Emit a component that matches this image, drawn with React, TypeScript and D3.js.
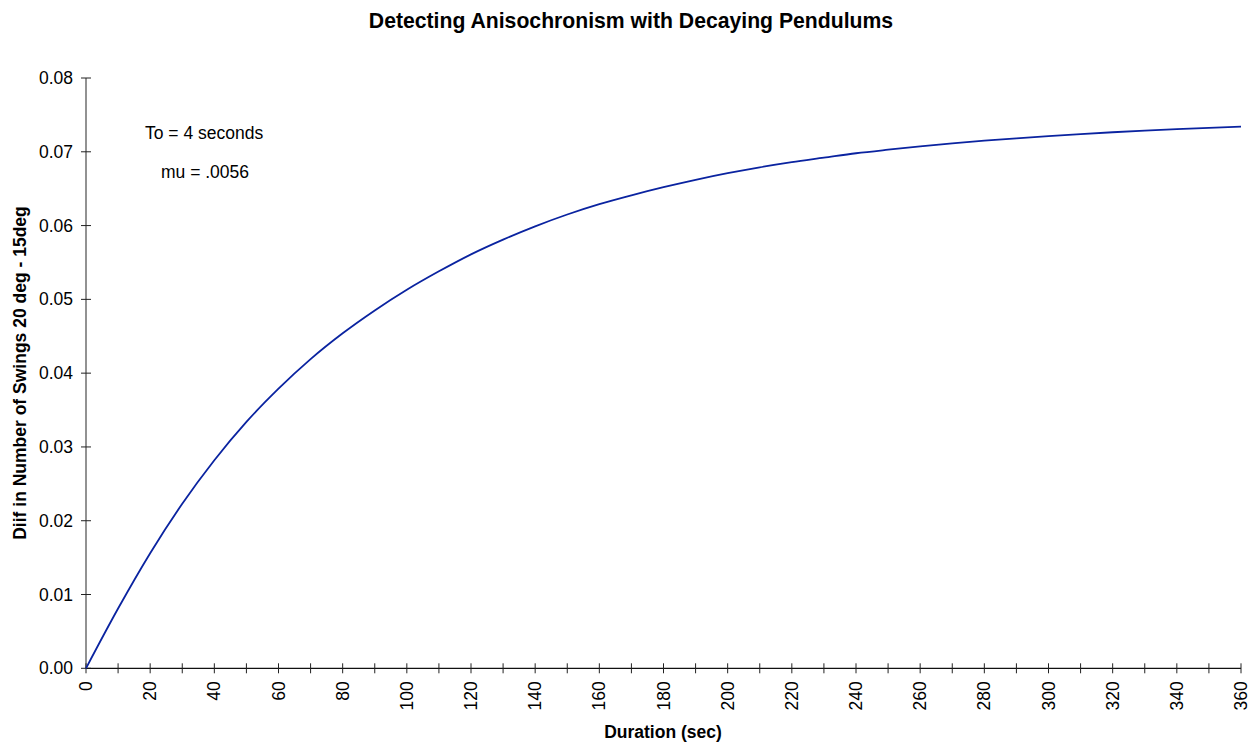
import React from "react";
import * as d3 from "d3";

const durations = [0, 10, 20, 30, 40, 50, 60, 70, 80, 90, 100, 110, 120, 130, 140, 150, 160, 170, 180, 190, 200, 210, 220, 230, 240, 250, 260, 270, 280, 290, 300, 310, 320, 330, 340, 350, 360];
const diffs = [0, 0.0081, 0.0156, 0.0223, 0.0282, 0.0334, 0.0379, 0.0419, 0.0454, 0.0485, 0.0513, 0.0538, 0.0561, 0.0581, 0.0599, 0.0615, 0.0629, 0.0641, 0.0652, 0.0662, 0.0671, 0.0679, 0.0686, 0.0692, 0.0698, 0.07028, 0.07072, 0.07113, 0.0715, 0.07183, 0.07213, 0.0724, 0.07265, 0.07287, 0.07307, 0.07325, 0.0734];
const xTickLabels = [0, 20, 40, 60, 80, 100, 120, 140, 160, 180, 200, 220, 240, 260, 280, 300, 320, 340, 360];
const xMinorTicks = d3.range(0, 361, 10);
const yTicks = [0, 0.01, 0.02, 0.03, 0.04, 0.05, 0.06, 0.07, 0.08];
const annotations = ["To = 4 seconds", "mu = .0056"];

const W = 1252;
const H = 743;
const left = 86;
const right = 1241;
const top = 78;
const bottom = 668.3;
const font = "Arial, 'Liberation Sans', Helvetica, sans-serif";

export default function App() {
  const x = d3.scaleLinear().domain([0, 360]).range([left, right]);
  const y = d3.scaleLinear().domain([0, 0.08]).range([bottom, top]);
  const pts = durations.map((d, i) => [d, diffs[i]] as [number, number]);
  const line = d3
    .line<[number, number]>()
    .x((d) => x(d[0]))
    .y((d) => y(d[1]))
    .curve(d3.curveMonotoneX);

  return (
    <div style={{ position: "absolute", left: 0, top: 0, width: W, height: H, background: "#fff" }}>
      <svg width={W} height={H} style={{ display: "block" }} fontFamily={font}>
        <text x={631} y={28} textAnchor="middle" fontSize={21.2} fontWeight="bold" fill="#000">
          Detecting Anisochronism with Decaying Pendulums
        </text>

        {/* y axis */}
        <line x1={left} x2={left} y1={top} y2={bottom} stroke="#6e6e6e" strokeWidth={1.5} />
        {yTicks.map((t) => (
          <g key={t}>
            <line x1={left - 5} x2={left + 5} y1={y(t)} y2={y(t)} stroke="#222" strokeWidth={1} />
            <text x={73} y={y(t)} dy="0.35em" textAnchor="end" fontSize={17.5} fill="#000">
              {t.toFixed(2)}
            </text>
          </g>
        ))}

        {/* x axis */}
        <line x1={left} x2={right} y1={bottom} y2={bottom} stroke="#111" strokeWidth={1.2} />
        {xMinorTicks.map((t) => (
          <line key={t} x1={x(t)} x2={x(t)} y1={bottom - 5} y2={bottom + 5} stroke="#222" strokeWidth={1} />
        ))}
        {xTickLabels.map((t) => (
          <text
            key={t}
            transform={`translate(${x(t)},${bottom + 13}) rotate(-90)`}
            dy="0.35em"
            textAnchor="end"
            fontSize={17.5}
            fill="#000"
          >
            {t}
          </text>
        ))}

        <path d={line(pts) || ""} fill="none" stroke="#0a23a0" strokeWidth={1.8} />

        <text x={145} y={139} fontSize={17.5} fill="#000">{annotations[0]}</text>
        <text x={161} y={178} fontSize={17.5} fill="#000">{annotations[1]}</text>

        <text x={663} y={738} textAnchor="middle" fontSize={17.5} fontWeight="bold" fill="#000">
          Duration (sec)
        </text>
        <text
          transform={`translate(26,373) rotate(-90)`}
          textAnchor="middle"
          fontSize={17.5}
          fontWeight="bold"
          fill="#000"
        >
          Diif in Number of Swings 20 deg - 15deg
        </text>
      </svg>
    </div>
  );
}
